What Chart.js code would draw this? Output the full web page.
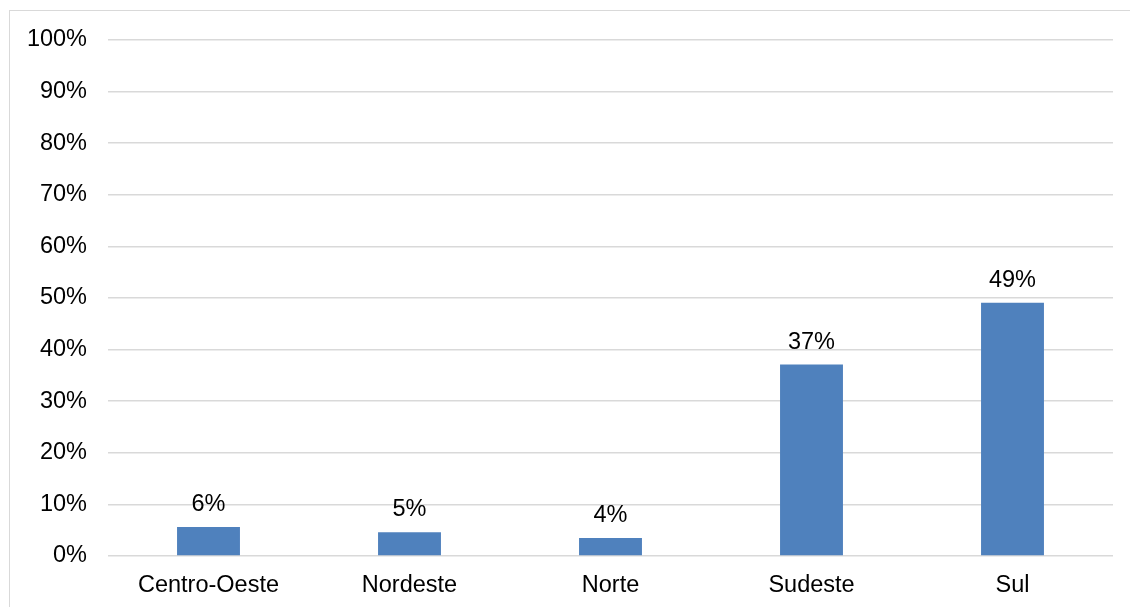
<!DOCTYPE html>
<html>
<head>
<meta charset="utf-8">
<script src="https://cdn.jsdelivr.net/npm/chart.js@4/dist/chart.umd.min.js"></script>
<style>
  html, body { margin: 0; padding: 0; background: #fff; overflow: hidden; }
  #frame {
    position: absolute; left: 9px; top: 10px; width: 1140px; height: 620px;
    border: 1px solid #d9d9d9; box-sizing: border-box;
  }
  #wrap { position: absolute; left: 0; top: 0; width: 1130px; height: 607px; }
</style>
</head>
<body>
<div id="frame"></div>
<div id="wrap"><canvas id="grafico"></canvas></div>
<script>
// Regiões e participação percentual de cada uma
const regioes = ['Centro-Oeste', 'Nordeste', 'Norte', 'Sudeste', 'Sul'];
const percentuais = [5.6, 4.6, 3.5, 37.1, 49.1];
const ticksY = [0, 10, 20, 30, 40, 50, 60, 70, 80, 90, 100];

const fonte = "'Liberation Sans', Arial, sans-serif";
const tamanho = 23.5;

// Rótulos de valor acima de cada barra
const rotulosBarras = {
    id: 'rotulosBarras',
    afterDatasetsDraw(chart) {
        const ctx = chart.ctx;
        const meta = chart.getDatasetMeta(0);
        ctx.save();
        ctx.font = tamanho + 'px ' + fonte;
        ctx.fillStyle = '#000';
        ctx.textAlign = 'center';
        ctx.textBaseline = 'alphabetic';
        meta.data.forEach((barra, i) => {
            ctx.fillText(Math.round(percentuais[i]) + '%', barra.x, barra.y - 16);
        });
        ctx.restore();
    }
};

const ctx = document.getElementById('grafico').getContext('2d');
new Chart(ctx, {
    type: 'bar',
    data: {
        labels: regioes,
        datasets: [{
            data: percentuais,
            backgroundColor: '#4f81bd',
            borderWidth: 0,
            categoryPercentage: 1,
            barPercentage: 0.313
        }]
    },
    options: {
        responsive: true,
        maintainAspectRatio: false,
        animation: false,
        layout: { padding: { top: 40, right: 17, bottom: 0, left: 0 } },
        plugins: {
            legend: { display: false },
            tooltip: { enabled: false }
        },
        scales: {
            x: {
                grid: { display: false, drawTicks: false },
                border: { display: false },
                ticks: {
                    color: '#000',
                    font: { family: fonte, size: tamanho },
                    padding: 15,
                    maxRotation: 0
                },
                afterFit(scale) { scale.height = 51; }
            },
            y: {
                min: 0,
                max: 100,
                afterBuildTicks(scale) {
                    scale.ticks = ticksY.map(v => ({ value: v }));
                },
                grid: { color: '#d9d9d9', lineWidth: 1.5, drawTicks: false },
                border: { display: false },
                ticks: {
                    color: '#000',
                    font: { family: fonte, size: tamanho },
                    padding: 21,
                    callback: v => v + '%'
                },
                afterFit(scale) { scale.width = 108; }
            }
        }
    },
    plugins: [rotulosBarras]
});
</script>
</body>
</html>
